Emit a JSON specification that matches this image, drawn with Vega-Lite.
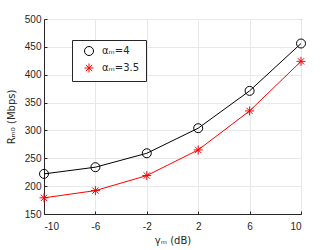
{
  "$schema": "https://vega.github.io/schema/vega-lite/v6.json",
  "width": 257,
  "height": 195,
  "autosize": {"type": "none"},
  "padding": {"left": 44, "top": 19, "right": 32, "bottom": 36},
  "background": "white",
  "config": {
    "font": "Liberation Sans",
    "view": {"stroke": "#262626", "strokeWidth": 1},
    "axis": {
      "labelFont": "Liberation Sans",
      "titleFont": "DejaVu Sans",
      "labelFontSize": 10,
      "titleFontSize": 10,
      "titleFontWeight": "normal",
      "labelColor": "#262626",
      "titleColor": "#262626",
      "domainColor": "#262626",
      "tickColor": "#262626",
      "gridColor": "#e8e8e8",
      "tickSize": -3
    },
    "legend": {
      "orient": "none",
      "legendX": 28,
      "legendY": 21,
      "strokeColor": "#262626",
      "fillColor": "white",
      "padding": 6,
      "rowPadding": 3,
      "symbolSize": 81,
      "symbolStrokeWidth": 1,
      "labelFontSize": 10,
      "labelColor": "#262626",
      "labelFont": "DejaVu Sans",
      "symbolOffset": 6,
      "labelOffset": 8
    }
  },
  "data": {
    "values": [
      {"g": -10, "R": 222, "s": "αₘ=4"},
      {"g": -6, "R": 234, "s": "αₘ=4"},
      {"g": -2, "R": 259, "s": "αₘ=4"},
      {"g": 2, "R": 304, "s": "αₘ=4"},
      {"g": 6, "R": 371, "s": "αₘ=4"},
      {"g": 10, "R": 456, "s": "αₘ=4"},
      {"g": -10, "R": 179, "s": "αₘ=3.5"},
      {"g": -6, "R": 192, "s": "αₘ=3.5"},
      {"g": -2, "R": 219, "s": "αₘ=3.5"},
      {"g": 2, "R": 265, "s": "αₘ=3.5"},
      {"g": 6, "R": 335, "s": "αₘ=3.5"},
      {"g": 10, "R": 424, "s": "αₘ=3.5"}
    ]
  },
  "encoding": {
    "x": {
      "field": "g", "type": "quantitative",
      "scale": {"domain": [-10, 10], "nice": false, "zero": false},
      "axis": {"values": [-10, -6, -2, 2, 6, 10], "title": "γₘ (dB)", "titlePadding": 4, "labelPadding": 10, "labelExpr": "'' + datum.value"}
    },
    "y": {
      "field": "R", "type": "quantitative",
      "scale": {"domain": [150, 500], "nice": false, "zero": false},
      "axis": {"values": [150, 200, 250, 300, 350, 400, 450, 500], "title": "Rₘ₀ (Mbps)", "titlePadding": 8, "labelPadding": 6}
    },
    "color": {
      "field": "s", "type": "nominal",
      "scale": {"domain": ["αₘ=4", "αₘ=3.5"], "range": ["#000000", "#ff0000"]},
      "legend": {"title": null}
    }
  },
  "layer": [
    {"mark": {"type": "line", "strokeWidth": 1}},
    {
      "mark": {"type": "point", "filled": false, "size": 81, "strokeWidth": 1, "opacity": 1},
      "encoding": {
        "shape": {
          "field": "s", "type": "nominal",
          "scale": {"domain": ["αₘ=4", "αₘ=3.5"], "range": ["circle", "M-1,0L1,0M0,-1L0,1M-0.7,-0.7L0.7,0.7M-0.7,0.7L0.7,-0.7"]},
          "legend": {"title": null}
        }
      }
    }
  ]
}
